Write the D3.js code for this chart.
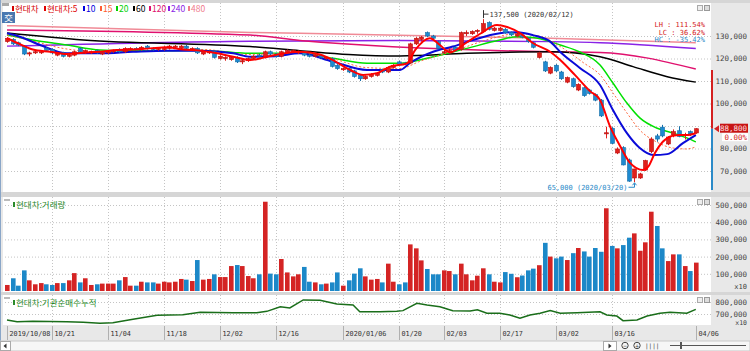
<!DOCTYPE html>
<html>
<head>
<meta charset="utf-8">
<script src="https://cdn.jsdelivr.net/npm/d3@7"></script>
<style>
body { margin: 0; background: #fff; overflow: hidden; }
text { font-family: "DejaVu Sans Mono", "Liberation Mono", monospace; font-size: 7px; }
.kr { font-family: "Noto Sans CJK KR", sans-serif; font-size: 8.5px; }
</style>
</head>
<body>
<svg id="chart" width="750" height="351"></svg>
<script>
(function() {

// daily candles, 2019/10/08 .. 2020/04/06 (thousand won)
const opens  = [127.5,128.5,127,125.5,122,122.5,122.5,124.5,124,121.5,122.5,121,121.5,124.5,122.5,122.5,123.5,122,122.5,123,124,123,124,124.5,124,125.5,124.5,124,124,124.5,125,124.5,125.5,124,124.5,122,122.5,123,120,120,119.5,120.5,118.5,119,
  120,121.5,120.5,123,122,121,122.5,123,122.5,123,121.5,121,121.5,120,120,117,115,115.5,114.5,112.5,111,112,112.5,115,114,116,118.5,118,118,126.5,128.5,131.5,130,127.5,122.5,123,125,124,131,131,132,132,136,132.5,132.5,
  133,131.5,130,130.5,129,127,120.5,118.5,113.5,117,114,109.5,111,106,107,106,104,101.5,86.5,89,78,80.4,74.9,66.9,66.9,70.4,78.6,85.6,89.5,82,86,87.9,86,87.5,86.9];
const highs  = [129.5,129,127.5,126,123,123.5,123.5,125,124.5,123,123,122,123.5,125,124,123.5,124,123,123.5,124,124.5,125,125,125,125.5,126,125,125,125.5,126,126,126,126,125,125,123.5,123.5,123.5,121.5,121,121,121,119.5,120.5,
  121.5,122,123.5,123.5,122.5,123.5,124,124,123.5,123.5,122,122,122,121,120.5,117.5,116,116,115,113,112.5,113.5,114,115.5,116.5,117.5,119,118.5,127,129.5,130,132,130.5,128,124,124.5,125.5,132,132.5,132.5,133,137.5,136.5,134,134,
  133.5,132,131.5,131,129.5,127.5,123,119,116.5,117.5,114.5,112,111.5,109,107.5,106.5,104.5,102,89.7,89.5,80.5,81,75.5,71,69.2,75,85,86.5,90.5,85.5,88.5,89.9,87,88,89];
const lows   = [127,126,125.5,121.5,121,122,122,123,122,121,120.5,120.5,121,122.5,122,122,122,121.5,122,122.5,122.5,122.5,123.5,123.5,123.5,124,123.5,123.5,123.5,124,124.5,124,124,123.5,122,121.5,122,120,119.5,119,119,118,117.5,118.5,
  119.5,120.5,120,121.5,120.5,120.5,122,122.5,122,121,120.5,120.5,120,119.5,116,115,114.5,113.5,111.5,110,110.5,111.5,112,113.5,113.5,115.5,117,117,117.5,126,127.5,129.5,128.5,124,122,122.5,123,123.5,130,130.5,131,131.5,132.5,132,132,
  131,130,129.5,129,127,124.5,120,114,113,114,110.5,109,107,105.5,103,104,101,94,84.5,82,77.5,72.5,65.2,65,66.5,70,78,83,85,81.5,85,85,84,85.5,86.5];
const closes = [129,126.5,126,122,122.5,123,123,123.5,122.5,122.5,121,121.5,123,123,123.5,123,122.5,122.5,123,123.5,123,124.5,124.5,124,125,124.5,124,124.5,125,125.5,125.5,125.5,124.5,124.5,122.5,123,123,120.5,121,120.5,120.5,118.5,119,120,
  121,121,123,122,121,123,123.5,123.5,123,121.5,121,121.5,120.5,120.5,116.5,115.5,115.5,114,112,111,112,113,113.5,114,116,117,117.5,117.5,126.5,129,129.5,130,129,124.5,123,123.5,123.5,131.5,131.5,132,132.5,135.5,133,133.5,133.5,
  131.5,130.5,131,129.5,127.5,125,122.5,114.5,116,114.5,111,111.5,107.5,108.5,103.5,104.5,101.5,94.5,87,82.3,79.8,72.7,65.5,70.9,68.7,74.6,84.2,84.2,85.6,85.1,87.5,85.3,86.2,86.5,88.8];

// volume (x10 shares, in thousands as displayed)
const volumes = [35,74,31,120,62,39,46,39,35,46,46,62,104,50,74,35,39,43,43,43,62,81,31,31,54,50,50,43,54,50,54,70,66,58,180,66,70,97,81,81,145,151,145,87,
  74,97,519,101,97,186,108,85,97,140,54,50,39,43,50,108,31,62,101,132,85,66,70,50,159,54,39,50,271,248,178,128,97,97,120,116,97,159,97,62,89,132,97,54,50,
  110,100,80,90,120,130,150,280,200,190,200,180,220,250,230,200,250,228,481,262,248,267,310,335,234,283,461,378,248,174,213,213,145,116,165];

// moving averages: [candle index, value in thousand won]
const ma5 = [[0,129],[2.3,126.4],[4.6,124],[7.7,123],[10.7,122],[13.6,122.6],[16.6,123],[19.6,123.8],[22.5,124],[25.5,124.5],[28.6,125],[31.4,124],[34.5,123.5],[37.5,122.3],[40.4,120.8],[43.4,119.3],
  [46,120.5],[50,122.5],[52.3,123],[55.9,121.8],[58.2,119.3],[61.3,114.9],[63.6,112.7],[66.1,113.5],[68.4,116.4],[71.4,117.8],[72.9,123.8],[75.5,129],[77.3,126],[79.1,122.7],[82,127],[84.5,131],[87.5,134.9],[89.3,134],
  [91.6,131.3],[93.9,126.9],[97,123],[98.8,119.3],[101.4,112.7],[104.1,105.5],[105.9,101.6],[107.7,89.7],[109.5,81],[111.3,73.5],[113.6,70.4],[114.5,71.9],[115.7,78],[117.1,83],[118.8,85.6],[120.2,86],[121.4,86],[123,86.8]];
const ma10 = [[0,131.2],[2.3,129.7],[5.9,126],[10.7,122.3],[16.6,122.3],[22.5,123],[28.6,123.5],[34.5,123.5],[40.4,122.3],[43.4,120.8],[47.9,121],[52.3,122.3],[58.2,118.6],[64.3,114.9],[70.2,114.9],[71.9,117.9],
  [76.1,123],[79.6,125.3],[83.2,128.2],[88,131.2],[91.1,131.7],[93.9,130.4],[97,127.5],[98.8,122.9],[102.3,115.8],[105.9,108.2],[108.2,97.1],[110.7,86.8],[113,80.2],[115.4,77.1],[117.9,77.5],[120.7,82.4],[123,86]];
const ma15 = [[0,130.5],[5,127.5],[10,124.5],[17,123],[28,123.5],[35,124],[43,121.8],[52,122.3],[58,120],[64,116],[70,115.5],[74,119],[80,123.5],[86,128.5],[91,131],[95,130],[99,125],[103,118],
  [105.9,112.7],[108.2,104.7],[110.7,95.8],[113,88.2],[116,82.9],[119,80.2],[121.4,79.8],[123,80.7]];
const ma20 = [[0,130.4],[4.6,128.2],[10.7,126],[16.6,123.8],[22.5,123.4],[28.6,123.4],[34.5,123.6],[40.4,122.7],[43.4,122.3],[52.3,122.3],[58.2,120.1],[64.3,117.9],[70.2,117.9],[76.1,120.8],[82.1,124.5],[88,128.2],
  [91.1,129.7],[93.9,129.3],[97,127.5],[98.8,126],[102.3,122.9],[105.9,117.1],[108.2,109.1],[110.7,100.2],[113,93.6],[116,89.1],[118.9,86.9],[121.4,84.7],[123,82.9]];
const ma60 = [[0,131.3],[13.6,128.2],[43.4,125.3],[52.3,123.5],[61,121.8],[70.2,121.1],[82.1,122.3],[97,123],[105.9,120.8],[111.8,116.4],[117.9,111.9],[123,109.5]];
const ma120 = [[0,132.7],[43.4,130.4],[52.3,128],[97,123],[105.9,122.7],[123,115.3]];
const ma240 = [[0,125.5],[43.4,127.7],[70,128],[97,127.5],[105.9,127],[123,124.4]];
const ma480 = [[0,134.6],[43.4,131.6],[52.3,131.2],[97,129],[123,127]];

// institutional net buying, cumulative: [candle index, value]
const inst = [[0,650],[1.8,636],[4.6,640],[10.7,636],[13.6,632],[16.6,622],[18.9,628],[22.5,656],[26.8,689],[31.4,694],[34.5,714],[40.4,711],[44.6,711],[46.4,722],[48.8,761],[50.5,750],[52.9,817],
  [55.9,814],[58.9,783],[61.8,775],[63,719],[66.6,719],[69.6,722],[70.7,728],[73.2,789],[75,775],[77.3,761],[79.6,728],[82.7,725],[84,736],[85.7,706],[88,706],[89.8,692],[91.6,664],[93.4,692],
  [95.2,706],[97,728],[98.8,706],[101.8,711],[105.9,719],[107.1,692],[108.9,683],[110,644],[112.5,650],[114.3,683],[116.6,706],[118.4,714],[121.4,706],[123,739]];

const tickIdx   = [0, 8, 18, 28, 38, 48, 60, 70, 78, 88, 98, 108, 123];
const tickLabel = ["2019/10/08","10/21","11/04","11/18","12/02","12/16","2020/01/06","01/20","02/03","02/17","03/02","03/16","04/06"];
const priceTicks = [70000, 80000, 90000, 100000, 110000, 120000, 130000];
const volTicks = [100000, 200000, 300000, 400000, 500000];
const instTicks = [700000, 800000];

const legendText  = ["현대차", "현대차:5", "10", "15", "20", "60", "120", "240", "480"];
const legendColor = ["#d40000", "#e00000", "#0000e0", "#ff5a30", "#00d000", "#000000", "#e0106e", "#8a22e6", "#f07a8c"];
const legendX     = [15, 47, 86, 103, 119, 136, 152, 171, 191];

const lastPrice = 88800;


const svg = d3.select("#chart");
const plotL = 3, plotR = 711;
const panelPrice = [3, 192], panelVol = [197, 292], panelInst = [295, 325];
const red = "#e0201c", redDark = "#b80f0f", blue = "#1e8ad0", blueDark = "#156ea8";

svg.append("rect").attr("width", 750).attr("height", 351).attr("fill", "#e8e8e8");
[panelPrice, panelVol, panelInst].forEach(p => {
    svg.append("rect")
        .attr("x", plotL).attr("y", p[0])
        .attr("width", plotR - plotL).attr("height", p[1] - p[0])
        .attr("fill", "#fff");
});
// separators
[[192, 197], [292, 295]].forEach(s => {
    svg.append("rect").attr("x", 0).attr("y", s[0]).attr("width", 750).attr("height", s[1] - s[0]).attr("fill", "#d6d6d6");
});
svg.append("rect").attr("x", 0).attr("y", 0).attr("width", 750).attr("height", 3).attr("fill", "#d6d6d6");
svg.append("line").attr("x1", 0.5).attr("x2", 0.5).attr("y1", 0).attr("y2", 341).attr("stroke", "#8aa6c8");

const x = d3.scaleLinear().domain([0, 123]).range([7, 695.8]);
const yPrice = d3.scaleLinear().domain([70000, 130000]).range([171, 36]);
const yVol = d3.scaleLinear().domain([0, 500000]).range([291, 205]);
const yInst = d3.scaleLinear().domain([700000, 800000]).range([314, 302]);
const yLast = yPrice(lastPrice);

// gridlines
function hGrid(scale, ticks) {
    svg.append("g")
        .attr("transform", `translate(${plotR},0)`)
        .call(d3.axisLeft(scale).tickValues(ticks).tickSize(plotR - plotL).tickFormat(""))
        .call(g => g.select(".domain").remove())
        .call(g => g.selectAll("line").attr("stroke", "#c4c4c4").attr("stroke-dasharray", "1,2"));
}
hGrid(yPrice, priceTicks);
hGrid(yVol, volTicks);
hGrid(yInst, instTicks);

[panelPrice, panelVol, panelInst].forEach(p => {
    svg.append("g").selectAll("line")
        .data(tickIdx.slice(1, -1))
        .enter().append("line")
        .attr("x1", d => Math.round(x(d)) + 0.5).attr("x2", d => Math.round(x(d)) + 0.5)
        .attr("y1", p[0]).attr("y2", p[1])
        .attr("stroke", "#c4c4c4").attr("stroke-dasharray", "1,2");
});

// right axes
function rightAxis(scale, ticks, fmt) {
    svg.append("g")
        .attr("transform", `translate(${plotR},0)`)
        .call(d3.axisRight(scale).tickValues(ticks).tickSize(0).tickFormat(fmt))
        .call(g => g.select(".domain").remove())
        .call(g => g.selectAll("text").attr("x", 36).attr("text-anchor", "end")
            .attr("fill", "#444").style("font-size", "7.5px"));
}
// the price label box hides the tick label next to it
rightAxis(yPrice, priceTicks.filter(v => Math.abs(yPrice(v) - yLast) > 8), d3.format(","));
rightAxis(yVol, volTicks, d3.format(","));
rightAxis(yInst, instTicks, d3.format(","));
svg.append("text").attr("x", 747).attr("y", 289).attr("text-anchor", "end").attr("fill", "#444").style("font-size", "7px").text("x10");
svg.append("text").attr("x", 747).attr("y", 324.5).attr("text-anchor", "end").attr("fill", "#444").style("font-size", "6.5px").text("x10");

// moving averages
const maLine = d3.line().x(d => x(d[0])).y(d => yPrice(d[1] * 1000)).curve(d3.curveMonotoneX);
const maDefs = [
    [ma480, "#f08a96", 1.5, null],
    [ma240, "#8a22e6", 1.5, null],
    [ma120, "#e0106e", 1.5, null],
    [ma60, "#000", 1.5, null],
    [ma20, "#00e000", 1.5, null],
    [ma15, "#ff6a40", 1, "2,2"],
    [ma10, "#0a0ad8", 2, null],
];
svg.append("clipPath").attr("id", "clipPrice").append("rect")
    .attr("x", plotL).attr("y", panelPrice[0]).attr("width", plotR - plotL).attr("height", panelPrice[1] - panelPrice[0]);
const priceG = svg.append("g").attr("clip-path", "url(#clipPrice)");
maDefs.forEach(m => {
    priceG.append("path").attr("d", maLine(m[0])).attr("fill", "none")
        .attr("stroke", m[1]).attr("stroke-width", m[2]).attr("stroke-dasharray", m[3]);
});

// candles
const candles = closes.map((c, i) => ({ i, o: opens[i] * 1000, h: highs[i] * 1000, l: lows[i] * 1000, c: c * 1000 }));
const cg = priceG.selectAll(".candle").data(candles).enter().append("g");
cg.append("line")
    .attr("x1", d => Math.round(x(d.i)) + 0.5).attr("x2", d => Math.round(x(d.i)) + 0.5)
    .attr("y1", d => yPrice(d.h)).attr("y2", d => yPrice(d.l))
    .attr("stroke", d => d.c >= d.o ? red : blueDark);
cg.append("rect")
    .attr("x", d => Math.round(x(d.i)) - 1.5).attr("width", 4)
    .attr("y", d => yPrice(Math.max(d.o, d.c)))
    .attr("height", d => Math.max(1, Math.abs(yPrice(d.o) - yPrice(d.c))))
    .attr("fill", d => d.c >= d.o ? red : blue)
    .attr("stroke", d => d.c >= d.o ? redDark : blueDark).attr("stroke-width", 0.6);

priceG.append("path").attr("d", maLine(ma5)).attr("fill", "none").attr("stroke", "#ff0000").attr("stroke-width", 2);

// high / low annotations
const hiIdx = d3.maxIndex(highs), loIdx = d3.minIndex(lows);
const hx = Math.round(x(hiIdx)) + 0.5, hy = yPrice(highs[hiIdx] * 1000);
svg.append("path").attr("d", `M${hx},${hy - 1}V${hy - 9}M${hx},${hy - 5}H${hx + 5}`).attr("stroke", "#333").attr("fill", "none");
svg.append("text").attr("x", hx + 6).attr("y", hy - 2.5).attr("fill", "#333").text("137,500 (2020/02/12)");
const lx = Math.round(x(loIdx)) + 0.5, ly = yPrice(lows[loIdx] * 1000);
svg.append("path").attr("d", `M${lx - 6},${ly + 5}H${lx}V${ly + 1}`).attr("stroke", "#2a8ac8").attr("fill", "none");
svg.append("path").attr("d", `M${lx - 2},${ly + 3}L${lx},${ly + 0.5}L${lx + 2},${ly + 3}`).attr("stroke", "#2a8ac8").attr("fill", "none");
svg.append("text").attr("x", lx - 7).attr("y", ly + 7.5).attr("text-anchor", "end").attr("fill", "#2a8ac8").text("65,000 (2020/03/20)");

// LH / LC / HC
[["LH : 111.54%", "#d42020"], ["LC :  36.62%", "#d42020"], ["HC : -35.42%", "#2a8ac8"]].forEach((t, k) => {
    svg.append("text").attr("x", 705).attr("y", 27 + k * 7.5).attr("text-anchor", "end").attr("fill", t[1]).text(t[0]);
});

// current price marker
svg.append("line").attr("x1", 712).attr("x2", 712).attr("y1", 70).attr("y2", yLast).attr("stroke", "#d42020").attr("stroke-width", 2);
svg.append("line").attr("x1", 712).attr("x2", 712).attr("y1", yLast).attr("y2", 190).attr("stroke", "#2a8ac8").attr("stroke-width", 2);
svg.append("path").attr("d", `M714,${yLast}L719,${yLast - 3.5}V${yLast + 3.5}Z`).attr("fill", "#d42020");
svg.append("rect").attr("x", 720).attr("y", yLast - 5).attr("width", 28).attr("height", 9).attr("fill", "#c81414");
svg.append("text").attr("x", 747).attr("y", yLast + 2.5).attr("text-anchor", "end").attr("fill", "#ffe0e0").style("font-size", "7.5px").text(d3.format(",")(lastPrice));
svg.append("rect").attr("x", 722).attr("y", yLast + 4.5).attr("width", 26).attr("height", 8).attr("fill", "#fff");
svg.append("text").attr("x", 747).attr("y", yLast + 11).attr("text-anchor", "end").attr("fill", "#d42020").style("font-size", "7.5px").text("0.00%");

// volume bars
svg.append("g").selectAll("rect").data(volumes).enter().append("rect")
    .attr("x", (d, i) => Math.round(x(i)) - 2).attr("width", 4.6)
    .attr("y", d => yVol(d * 1000)).attr("height", d => yVol(0) - yVol(d * 1000))
    .attr("fill", (d, i) => closes[i] >= opens[i] ? "#d42424" : "#1c88c8");

// institution cumulative line
svg.append("path")
    .attr("d", d3.line().x(d => x(d[0])).y(d => yInst(d[1] * 1000))(inst))
    .attr("fill", "none").attr("stroke", "#1a6e1a").attr("stroke-width", 1.5);

// legends
svg.append("rect").attr("x", 2).attr("y", 3).attr("width", 7).attr("height", 3).attr("fill", "#aaa");
svg.append("rect").attr("x", 2).attr("y", 12).attr("width", 13).attr("height", 11).attr("fill", "#4a78b0");
svg.append("text").attr("class", "kr").attr("x", 8.5).attr("y", 21).attr("text-anchor", "middle").attr("fill", "#fff").text("交");
legendText.forEach((t, k) => {
    svg.append("rect").attr("x", legendX[k] - 3).attr("y", 6).attr("width", 2).attr("height", 5).attr("fill", legendColor[k]);
    svg.append("text").attr("class", "kr").attr("x", legendX[k]).attr("y", 12).attr("fill", legendColor[k]).text(t);
});
[[199, "현대차:거래량"], [297, "현대차:기관순매수누적"]].forEach(l => {
    svg.append("rect").attr("x", 4).attr("y", l[0]).attr("width", 6).attr("height", 2).attr("fill", "#bbb");
    svg.append("rect").attr("x", 13).attr("y", l[0] + 3).attr("width", 2).attr("height", 5).attr("fill", "#2a8a2a");
    svg.append("text").attr("class", "kr").attr("x", 16).attr("y", l[0] + 9).attr("fill", "#2a8a2a").text(l[1]);
});
// panel buttons
[3, 197, 295].forEach(t => {
    svg.append("rect").attr("x", 697.5).attr("y", t + 2.5).attr("width", 5).attr("height", 5).attr("fill", "#eee").attr("stroke", "#aaa");
    svg.append("rect").attr("x", 704.5).attr("y", t + 2.5).attr("width", 5).attr("height", 5).attr("fill", "#ddd").attr("stroke", "#999");
});

// date axis
const xa = svg.append("g");
tickIdx.forEach((t, k) => {
    const tx = Math.round(x(t)) + 0.5;
    xa.append("line").attr("x1", tx).attr("x2", tx).attr("y1", 326).attr("y2", 340).attr("stroke", "#b0b0b0");
    xa.append("text").attr("x", tx + 2).attr("y", 336).attr("fill", "#333").style("font-size", "6.8px").text(tickLabel[k]);
});

// scroll bar
svg.append("rect").attr("x", 0).attr("y", 341).attr("width", 750).attr("height", 10).attr("fill", "#f6f6f6").attr("stroke", "#c8c8c8");
svg.append("rect").attr("x", 0.5).attr("y", 341.5).attr("width", 10).attr("height", 9).attr("fill", "#fff").attr("stroke", "#aaa");
svg.append("path").attr("d", "M3.5,346L6.5,343.5V348.5Z").attr("fill", "#333");
svg.append("rect").attr("x", 603.5).attr("y", 341.5).attr("width", 13).attr("height", 9).attr("fill", "#fff").attr("stroke", "#aaa");
svg.append("path").attr("d", "M608.5,343.5L611.5,346L608.5,348.5Z").attr("fill", "#333");
[[625, "−"], [637, "+"]].forEach(b => {
    svg.append("circle").attr("cx", b[0]).attr("cy", 345.5).attr("r", 3.2).attr("fill", "none").attr("stroke", "#444");
    svg.append("text").attr("x", b[0]).attr("y", 348).attr("text-anchor", "middle").attr("fill", "#444").style("font-size", "6px").text(b[1]);
});
svg.append("text").attr("x", 645).attr("y", 348).attr("fill", "#444").style("font-size", "6px").text("||||");
svg.append("line").attr("x1", 670).attr("x2", 746).attr("y1", 345.5).attr("y2", 345.5).attr("stroke", "#555");
svg.append("rect").attr("x", 680).attr("y", 342).attr("width", 2).attr("height", 7).attr("fill", "#555");

})();
</script>
</body>
</html>
